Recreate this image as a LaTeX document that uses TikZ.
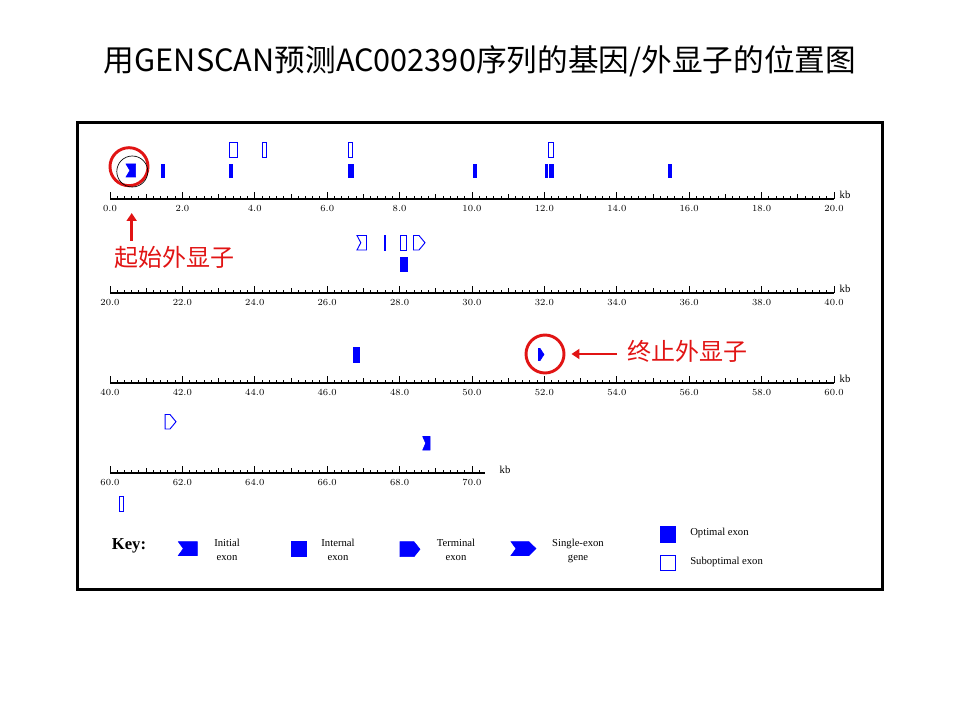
\documentclass[tikz,border=0pt]{standalone}
\usepackage{fontspec}
\setmainfont{Liberation Serif}
\newfontfamily\cjk{Noto Sans CJK SC}
\usetikzlibrary{arrows.meta, positioning, calc}
\definecolor{genblue}{RGB}{0,0,255}
\definecolor{markred}{RGB}{225,20,20}

\tikzset{
  optex/.style={draw=genblue, fill=genblue, line width=0.4pt},
  subex/.style={draw=genblue, fill=white, line width=0.7pt},
  ticklabel/.style={font=\fontsize{7}{8}\selectfont, inner sep=0pt},
  keytext/.style={font=\fontsize{8}{10.5}\selectfont, align=center, inner sep=0pt},
  ring/.style={circle, draw=markred, line width=2.2pt, minimum size=28.5pt, inner sep=0pt},
  callout/.style={text=markred, font=\cjk\fontsize{18}{20}\selectfont, inner sep=0pt},
  pointer/.style={draw=markred, line width=2pt, -{Triangle[length=6pt, width=7.5pt]}},
}

% exon glyphs: style, left, right, top, bottom (pixels)
\newcommand{\barexon}[5]{\draw[#1] (#2,#4) rectangle (#3,#5);}
\newcommand{\initexon}[5]{%
  \pgfmathsetmacro{\ymid}{(#4+#5)/2}%
  \pgfmathsetmacro{\xnotch}{#2+min(5,0.4*(#3-#2))}%
  \draw[#1] (#2,#4) -- (#3,#4) -- (#3,#5) -- (#2,#5) -- (\xnotch,\ymid) -- cycle;}
\newcommand{\termexon}[5]{%
  \pgfmathsetmacro{\ymid}{(#4+#5)/2}%
  \pgfmathsetmacro{\xtip}{#3-min(6,0.7*(#3-#2))}%
  \draw[#1] (#2,#4) -- (\xtip,#4) -- (#3,\ymid) -- (\xtip,#5) -- (#2,#5) -- cycle;}
\newcommand{\singleexon}[5]{%
  \pgfmathsetmacro{\ymid}{(#4+#5)/2}%
  \pgfmathsetmacro{\xnotch}{#2+5}%
  \pgfmathsetmacro{\xtip}{#3-7}%
  \draw[#1] (#2,#4) -- (\xtip,#4) -- (#3,\ymid) -- (\xtip,#5) -- (#2,#5) -- (\xnotch,\ymid) -- cycle;}

% kb ruler: name, y, first kb, last 0.2kb tick, end of line
\newcommand{\kbruler}[5]{%
  \draw[line width=0.9pt] (110,#2) -- (#5,#2);
  \foreach \i in {0,...,#4}{
    \pgfmathsetmacro{\th}{ifthenelse(mod(\i,10)==0,7,ifthenelse(mod(\i,5)==0,5,2.6))}
    \draw[line width=0.7pt] (110+7.24*\i,#2) -- ++(0,-\th);
  }
  \pgfmathtruncatemacro{\nlab}{#4/10}
  \foreach \j in {0,...,\nlab}{
    \pgfmathsetmacro{\kbval}{#3+2*\j}
    \node[ticklabel] (#1-\j) at (110+72.4*\j,#2+9.5)
      {\pgfmathprintnumber[fixed,fixed zerofill,precision=1]{\kbval}};
  }
}

\begin{document}
\begin{tikzpicture}[x=0.75pt, y=-0.75pt]
  \useasboundingbox (0,0) rectangle (960,720);

  \node[font=\cjk\fontsize{23}{27}\selectfont] (title) at (480,61)
    {用GENSCAN预测AC002390序列的基因/外显子的位置图};

  \draw[line width=2.25pt] (77.5,122.5) rectangle (882,589.5);

  % rulers
  \kbruler{rowa}{199}{0}{100}{834}
  \kbruler{rowb}{293}{20}{100}{834}
  \kbruler{rowc}{383}{40}{100}{834}
  \kbruler{rowd}{473}{60}{51}{485}
  \node[ticklabel, font=\fontsize{8}{9}\selectfont] (rowa-kb) at (845,195) {kb};
  \node[ticklabel, font=\fontsize{8}{9}\selectfont] (rowb-kb) at (845,289) {kb};
  \node[ticklabel, font=\fontsize{8}{9}\selectfont] (rowc-kb) at (845,379) {kb};
  \node[ticklabel, font=\fontsize{8}{9}\selectfont] (rowd-kb) at (505,470) {kb};

  % row 1: 0-20 kb
  \barexon{subex}{229.5}{237.5}{142}{157}
  \barexon{subex}{262.7}{266}{142}{157}
  \barexon{subex}{348.5}{352.3}{142}{157}
  \barexon{subex}{548.7}{553}{142}{157}
  \initexon{optex}{126}{135.7}{164}{177}
  \barexon{optex}{161.5}{164}{164}{177}
  \barexon{optex}{229.5}{232}{164}{177}
  \barexon{optex}{348.5}{353}{164}{177}
  \barexon{optex}{473.5}{476.5}{164}{177}
  \barexon{optex}{545.2}{547.3}{164}{177}
  \barexon{optex}{549.6}{553}{164}{177}
  \barexon{optex}{668.7}{671.3}{164}{177}

  % row 2: 20-40 kb
  \initexon{subex}{357}{366.5}{235.5}{250}
  \barexon{subex}{384.2}{385.8}{235.5}{250}
  \barexon{subex}{400.3}{406.5}{235.5}{250}
  \termexon{subex}{413.5}{425}{235.5}{250}
  \barexon{optex}{400}{407.7}{257}{271.5}

  % row 3: 40-60 kb
  \barexon{optex}{353.5}{359}{347}{362}
  \termexon{optex}{538.5}{544}{348.5}{360.5}

  % row 4: 60-70 kb
  \termexon{subex}{165.2}{176}{414.5}{429}
  \initexon{optex}{422.7}{430}{436.5}{450}
  \barexon{subex}{119.6}{123}{496.5}{511.5}

  % start / stop marks
  \node[ring] (startring) at (129,166.7) {};
  \node[circle, draw, line width=0.5pt, minimum size=23.25pt, inner sep=0pt] (gsring) at (132.3,171.5) {};
  \node[callout] (startlbl) at (174,257.5) {起始外显子};
  \coordinate (starttip) at (131.7,213);
  \draw[pointer, shorten <=4pt] (startlbl.north -| starttip) -- (starttip);

  \node[ring] (stopring) at (545,354) {};
  \node[callout] (stoplbl) at (687.5,351) {终止外显子};
  \draw[pointer, shorten <=7.5pt, shorten >=4.5pt] (stoplbl.west |- stopring) -- (stopring.east);

  % key
  \node[font=\bfseries\fontsize{12.5}{14}\selectfont, inner sep=0pt] (keyhead) at (129,546) {Key:};
  \initexon{optex}{178.3}{197.3}{541.7}{555.5}
  \node[keytext] (keyinit) at (227,550) {Initial\\exon};
  \barexon{optex}{291}{306.7}{541.7}{556.7}
  \node[keytext] (keyint) at (338,550) {Internal\\exon};
  \termexon{optex}{400}{420}{541.7}{556.7}
  \node[keytext] (keyterm) at (456,550) {Terminal\\exon};
  \singleexon{optex}{511}{536}{541.7}{555.5}
  \node[keytext] (keysing) at (578,550.5) {Single-exon\\gene};
  \barexon{optex}{660}{675.7}{526}{542.3}
  \node[keytext, anchor=west] (keyopt) at (690,533.3) {Optimal exon};
  \barexon{subex}{660.5}{675.2}{555.5}{570.2}
  \node[keytext, anchor=west] (keysub) at (690,561.7) {Suboptimal exon};
\end{tikzpicture}
\end{document}
